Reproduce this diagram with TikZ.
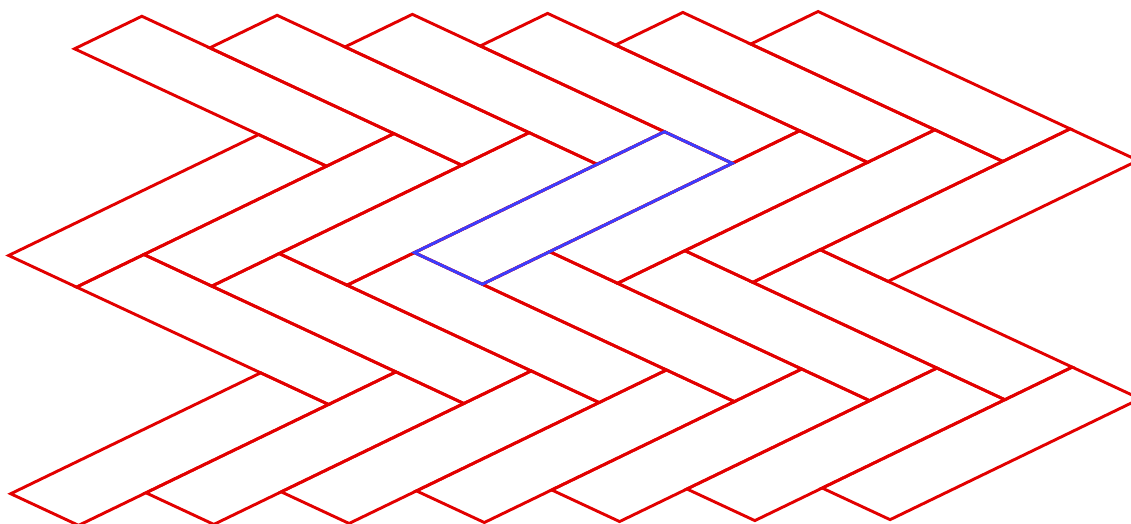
\documentclass[tikz,border=0pt]{standalone}
\definecolor{brickred}{RGB}{226,0,0}
\definecolor{brickblue}{RGB}{60,60,255}
\tikzset{
  brick/.style={draw=brickred, line width=2.9pt, line join=miter},
  hilite/.style={draw=brickblue, line width=2.9pt, line join=miter}
}
\begin{document}
\begin{tikzpicture}[x=1pt,y=1pt]
\useasboundingbox (0,0) rectangle (1131,-523);
\clip (0,0) rectangle (1131,-523);
\pgfmathsetmacro\br{3.712}
\begin{scope}[shift={(74.5pt,-48.8pt)}, x={(67.9pt,-31.62pt)}, y={(67.35pt,32.57pt)}]
  % bands of down-right bricks
  \foreach \i in {0,...,5} {
    \draw[brick] (\i,\i) -- ++(0,1) -- ++(\br,0) -- ++(0,-1) -- cycle;
    \draw[brick] ({\br+\i},{-\br+\i}) -- ++(0,1) -- ++(\br,0) -- ++(0,-1) -- cycle;
  }
  % bands of up-right bricks
  \foreach \i in {0,...,6} {
    \draw[brick] ({\br-1+\i},{-\br+\i}) -- ++(1,0) -- ++(0,\br) -- ++(-1,0) -- cycle;
    \draw[brick] ({2*\br-1+\i},{-2*\br+\i}) -- ++(1,0) -- ++(0,\br) -- ++(-1,0) -- cycle;
  }
  % highlighted brick
  \draw[hilite] ({\br+2},{-\br+3}) -- ++(1,0) -- ++(0,\br) -- ++(-1,0) -- cycle;
\end{scope}
\end{tikzpicture}
\end{document}
